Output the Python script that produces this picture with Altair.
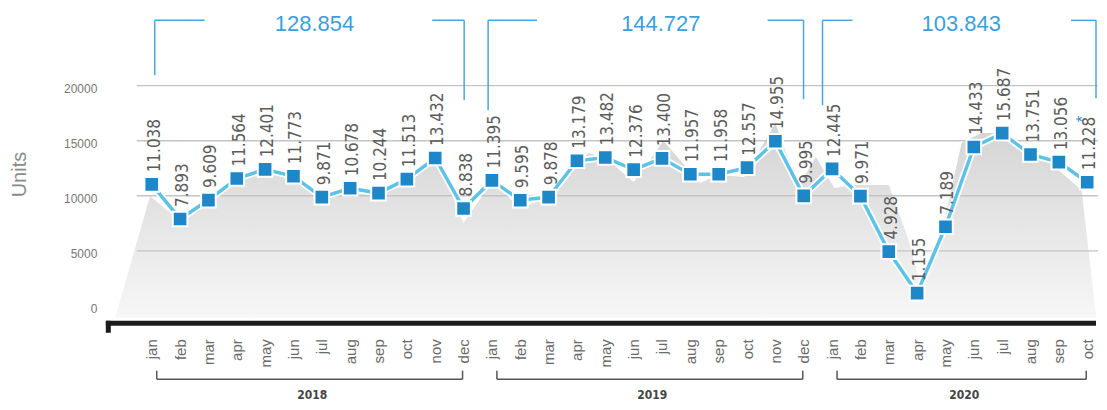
import altair as alt
import pandas as pd

# ---------------- data ----------------
months = ["jan", "feb", "mar", "apr", "may", "jun", "jul", "aug", "sep", "oct", "nov", "dec"]
years = ["2018", "2019", "2020"]
units_2018 = [11038, 7893, 9609, 11564, 12401, 11773, 9871, 10678, 10244, 11513, 13432, 8838]
units_2019 = [11395, 9595, 9878, 13179, 13482, 12376, 13400, 11957, 11958, 12557, 14955, 9995]
units_2020 = [12445, 9971, 4928, 1155, 7189, 14433, 15687, 13751, 13056, 11228]
series = [units_2018, units_2019, units_2020]

# grey "shadow" silhouette behind the line
shadow_idx = [-1.29, -0.06, 1, 2, 3, 4.1, 5, 6, 7, 8, 9, 10.05, 11, 12, 13, 14, 15.4, 16, 17, 18.05,
              19.35, 20, 20.9, 22, 22.8, 23.43, 24.08, 24.7, 26, 26.7, 27.12, 28, 28.57, 29.27, 29.9,
              30.82, 31.6, 31.98, 32.8, 33.32]
shadow_val = [-1090, 9977, 7700, 9500, 11500, 12800, 11700, 9800, 10600, 10200, 11400, 13500, 7528,
              11300, 8900, 9800, 13878, 13450, 11247, 14966, 11156, 11900, 11700, 16599, 10800, 13515,
              10703, 10975, 10975, 5986, 1905, 8254, 14785, 15692, 15692, 13878, 13515, 12336, 10521,
              -1090]

y_ticks = [0, 5000, 10000, 15000, 20000]
grid_vals = [5000, 10000, 15000, 20000]

# ---------------- layout ----------------
PLOT_LEFT, PLOT_TOP, PLOT_W, PLOT_H = 108, 8, 990, 315
X_DOM = [-1.549, 33.31]
Y_DOM = [-1542, 27029]


def ix(px):
    return X_DOM[0] + (px - PLOT_LEFT) / PLOT_W * (X_DOM[1] - X_DOM[0])


def pxi(i):
    return PLOT_LEFT + (i - X_DOM[0]) / (X_DOM[1] - X_DOM[0]) * PLOT_W


def vy(py):
    return Y_DOM[0] + (PLOT_TOP + PLOT_H - py) / PLOT_H * (Y_DOM[1] - Y_DOM[0])


NARROW = "Liberation Sans Narrow, DejaVu Sans Condensed, Roboto Condensed, Arial Narrow, sans-serif"
SANS = "Liberation Sans, Arial, Helvetica, sans-serif"
BLUE_TXT = "#3a9fdc"
BRACKET = "#4aa6dd"

rows = []
i = 0
for yr, vals in zip(years, series):
    for m, v in zip(months, vals):
        rows.append({"idx": i, "year": yr, "month": m, "units": v,
                     "label": f"{v:,}".replace(",", ".")})
        i += 1
df = pd.DataFrame(rows)
last_df = df.tail(1).copy()

shadow_df = pd.DataFrame({"idx": shadow_idx, "val": shadow_val})
shadow_df["base"] = vy(318)

# totals per year
totals = df.groupby("year", sort=False)["units"].sum().reset_index()
totals["label"] = totals["units"].map(lambda s: f"{s:,}".replace(",", "."))
total_px = {"2018": 315, "2019": 662, "2020": 963}
totals["x"] = totals["year"].map(lambda y: ix(total_px[y]))
totals["y"] = vy(24)

grid_df = pd.DataFrame({"v": grid_vals})
grid_df["x"] = ix(137)
grid_df["x2"] = ix(1100)

# top brackets (page coords)
top_br = {
    "2018": (155, 205, 75, 433, 465, 100),
    "2019": (489, 538, 110, 769, 805, 99),
    "2020": (824, 854, 105, 1073, 1098, 98),
}
segs = []
for yr, (xl, xl2, yl, xr1, xr2, yr_b) in top_br.items():
    segs += [
        (xl, xl2, 20, 20), (xl, xl, 20, yl),
        (xr1, xr2, 20, 20), (xr2, xr2, 20, yr_b),
    ]
top_df = pd.DataFrame([{"x": ix(a), "x2": ix(b), "y": vy(c), "y2": vy(d)} for a, b, c, d in segs])

# bottom year brackets
bsegs = []
ylab = []
for yr in years:
    sub = df[df["year"] == yr]
    x0 = pxi(sub["idx"].min()) + 5
    x1 = pxi(sub["idx"].max()) - 1
    bsegs += [(x0, x1, 379.5, 379.5), (x0, x0, 371, 379.5), (x1, x1, 371, 379.5)]
    ylab.append({"x": ix((x0 + x1) / 2 + 2.5), "y": vy(395.5), "year": yr})
bot_df = pd.DataFrame([{"x": ix(a), "x2": ix(b), "y": vy(c), "y2": vy(d)} for a, b, c, d in bsegs])
ylab_df = pd.DataFrame(ylab)

# black base bar with left hook
bar_df = pd.DataFrame([
    {"x": ix(106), "x2": ix(1098), "y": vy(323.5), "y2": vy(323.5)},
    {"x": ix(108.5), "x2": ix(108.5), "y": vy(321), "y2": vy(333)},
])

xs = alt.Scale(domain=X_DOM, nice=False, zero=False)
ys = alt.Scale(domain=Y_DOM, nice=False, zero=False)

month_expr = "[" + ",".join(f"'{m}'" for m in months) + "][datum.value % 12]"

x_axis = alt.Axis(values=list(range(len(df))), labelExpr=month_expr, labelAngle=-90,
                  labelAlign="right", labelBaseline="middle", labelPadding=16, ticks=False,
                  domain=False, grid=False, labelFontSize=15, labelColor="#6a6a6a",
                  labelFont=SANS, title=None, labelOverlap=False, labelFlush=False)
y_axis = alt.Axis(values=y_ticks, format="d", grid=False, domain=False, ticks=False, labelPadding=11,
                  labelFontSize=12, labelColor="#777777", labelFont=SANS, labelOffset=3,
                  title="Units", titleFontSize=20, titleColor="#8a8a8a", titleFontWeight="normal",
                  titleFont=SANS, titleX=-88, titleY=166, titleAngle=270, titleBaseline="middle",
                  titleAlign="center")


def X(field):
    return alt.X(field, scale=xs, axis=x_axis)


def Y(field):
    return alt.Y(field, scale=ys, axis=y_axis)


grad = alt.Gradient(gradient="linear",
                    stops=[alt.GradientStop(color="#d3d3d3", offset=0),
                           alt.GradientStop(color="#f7f7f7", offset=1)],
                    x1=1, x2=1, y1=0, y2=1)

area = alt.Chart(shadow_df).mark_area(color=grad).encode(
    x=X("idx:Q"), y=Y("val:Q"), y2="base:Q")

grid = alt.Chart(grid_df).mark_rule(color="#c4c4c4", strokeWidth=1.3).encode(
    y=Y("v:Q"), x=X("x:Q"), x2="x2:Q")

halo = alt.Chart(df).mark_line(color="white", strokeWidth=7).encode(x=X("idx:Q"), y=Y("units:Q"))
line = alt.Chart(df).mark_line(color="#5ec2e8", strokeWidth=3.5).encode(x=X("idx:Q"), y=Y("units:Q"))
points = alt.Chart(df).mark_square(size=215, color="#1e87c8", filled=True, opacity=1,
                                    stroke="white", strokeWidth=2).encode(x=X("idx:Q"), y=Y("units:Q"))
labels = alt.Chart(df).mark_text(angle=270, align="left", baseline="middle", dx=12, dy=3,
                                  fontSize=17, font=NARROW, color="#5c5c5c").encode(
    x=X("idx:Q"), y=Y("units:Q"), text="label:N")
star = alt.Chart(last_df).mark_text(angle=270, align="left", baseline="middle", dx=60, dy=-4,
                                     fontSize=17, font=SANS, color="#2a93d5", text="*").encode(
    x=X("idx:Q"), y=Y("units:Q"))

top_rules = alt.Chart(top_df).mark_rule(color=BRACKET, strokeWidth=1.5).encode(
    x=X("x:Q"), x2="x2:Q", y=Y("y:Q"), y2="y2:Q")
tot_text = alt.Chart(totals).mark_text(fontSize=22, font=SANS, color=BLUE_TXT, baseline="middle",
                                        align="center").encode(
    x=X("x:Q"), y=Y("y:Q"), text="label:N")

bot_rules = alt.Chart(bot_df).mark_rule(color="#555555", strokeWidth=1.5).encode(
    x=X("x:Q"), x2="x2:Q", y=Y("y:Q"), y2="y2:Q")
year_text = alt.Chart(ylab_df).mark_text(fontSize=12, font=NARROW, fontWeight="bold",
                                          color="#444444", baseline="middle").encode(
    x=X("x:Q"), y=Y("y:Q"), text="year:N")

bar = alt.Chart(bar_df).mark_rule(color="#1c1c1c", strokeWidth=5, strokeCap="butt").encode(
    x=X("x:Q"), x2="x2:Q", y=Y("y:Q"), y2="y2:Q")

chart = alt.layer(area, grid, halo, line, points, labels, star, top_rules, tot_text,
                  bot_rules, year_text, bar).properties(
    width=PLOT_W, height=PLOT_H,
    padding={"left": 100, "top": 0, "right": 3, "bottom": 79},
    autosize=alt.AutoSizeParams(type="none"),
    background="white",
).configure_view(stroke=None)

chart.save("out.html", embed_options={"renderer": "svg", "actions": False})
